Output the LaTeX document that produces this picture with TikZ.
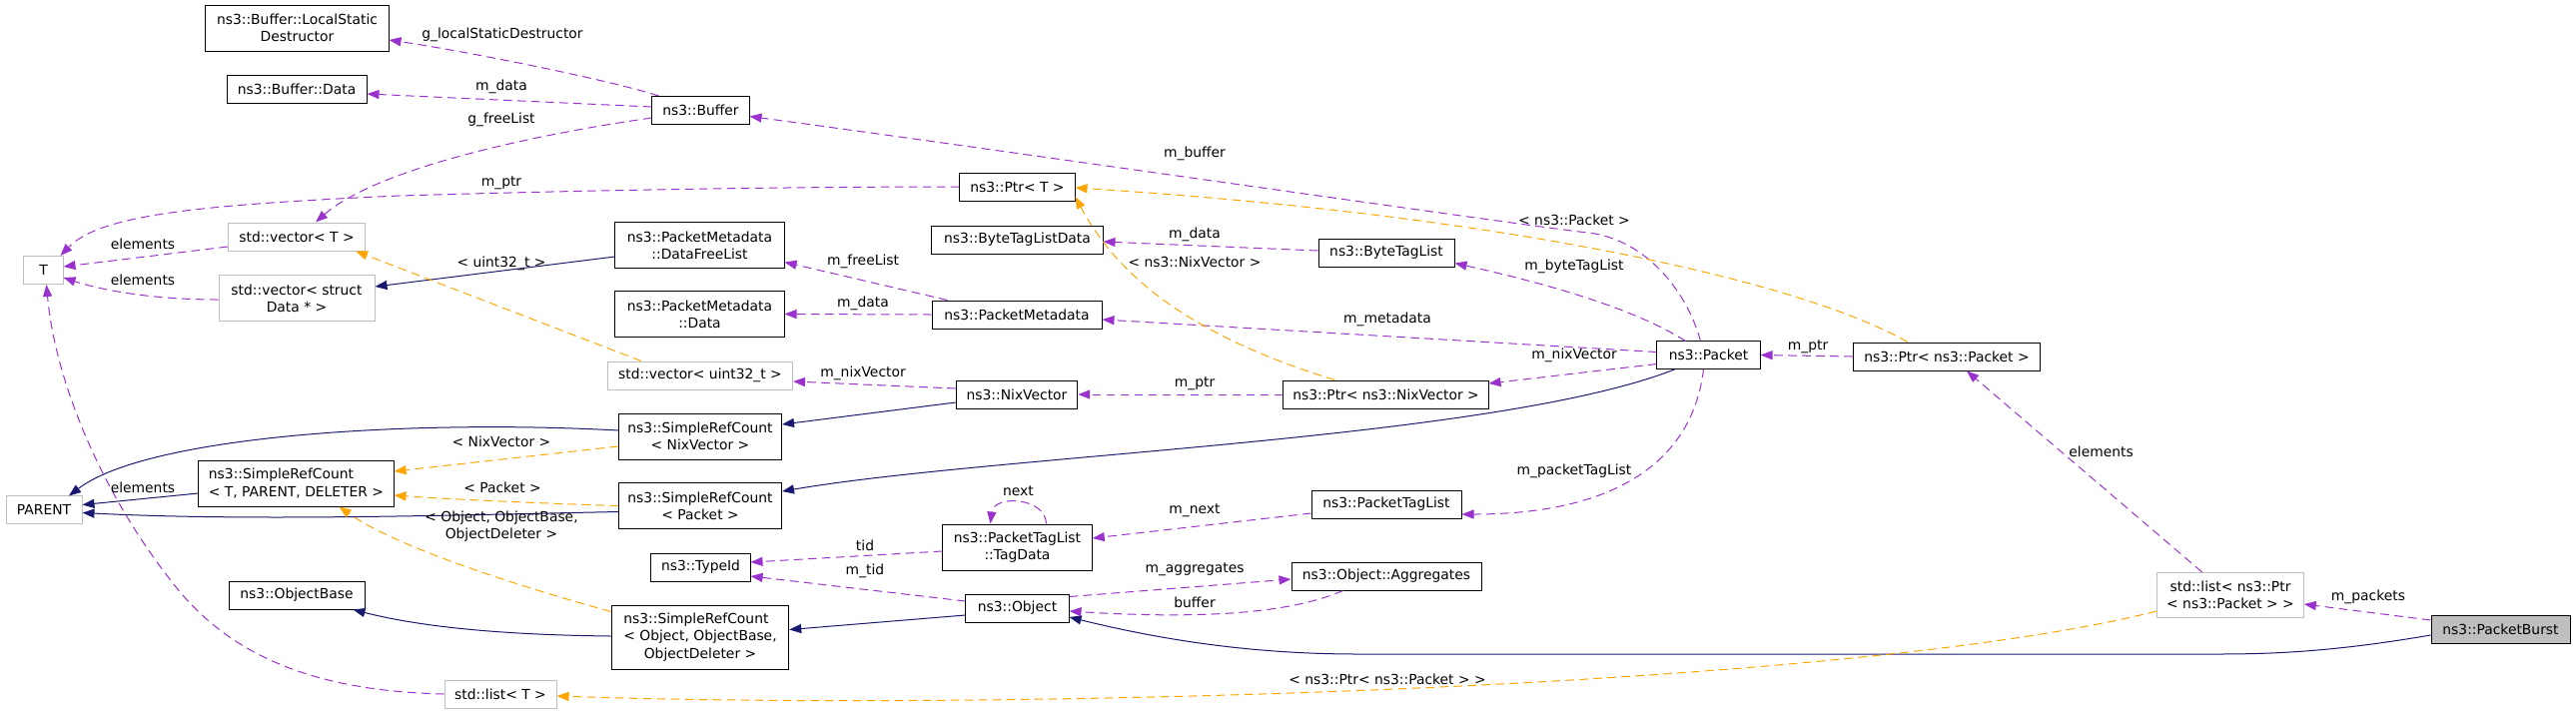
\documentclass[tikz,border=0pt]{standalone}
\usepackage{fontspec}
\setmainfont{DejaVu Sans}
\usetikzlibrary{arrows.meta,calc}

\definecolor{memcol}{HTML}{9A32CD}
\definecolor{argcol}{HTML}{FFA500}
\definecolor{inhcol}{HTML}{191970}
\definecolor{stdgray}{HTML}{BFBFBF}

\tikzset{
  cls/.style={draw=black, line width=0.75pt, inner sep=0pt, align=center,
    minimum height=21pt, font=\fontsize{10.4}{13}\selectfont},
  stdcls/.style={cls, draw=stdgray},
  lbl/.style={inner sep=0pt, align=center, font=\fontsize{10.4}{13}\selectfont},
  tip/.style={-{Triangle[length=9pt,width=6.8pt]}},
  inh/.style={tip, draw=inhcol, fill=none, line width=0.75pt},
  mem/.style={tip, draw=memcol, line width=0.75pt, dash pattern=on 6.5pt off 4pt},
  targ/.style={tip, draw=argcol, line width=0.75pt, dash pattern=on 6.5pt off 4pt}
}

\begin{document}
\begin{tikzpicture}[x=0.75pt, y=-0.75pt]
  \useasboundingbox (0,0) rectangle (2579,715);

  % Classes
  \node[cls, minimum width=137.3pt, minimum height=34.5pt] (lsd) at (297.5,28) {ns3::Buffer::LocalStatic\\Destructor};
  \node[cls, minimum width=105pt] (bdata) at (297,89) {ns3::Buffer::Data};
  \node[cls, minimum width=72.8pt] (buf) at (701.5,110.5) {ns3::Buffer};
  \node[stdcls, minimum width=102.8pt] (vecT) at (297,237) {std::vector< T >};
  \node[stdcls, minimum width=29.3pt] (tparam) at (43.5,270.5) {T};
  \node[stdcls, minimum width=117pt, minimum height=34pt] (vecD) at (297,298.5) {std::vector< struct\\Data * >};
  \node[cls, minimum width=126.8pt, minimum height=34pt] (dfl) at (700.5,245.5) {ns3::PacketMetadata\\::DataFreeList};
  \node[cls, minimum width=126.8pt, minimum height=34pt] (pmdata) at (700.5,314.5) {ns3::PacketMetadata\\::Data};
  \node[stdcls, minimum width=138.8pt] (vecU) at (701,376) {std::vector< uint32\_t >};
  \node[cls, minimum width=122.3pt, minimum height=34.5pt] (srcNV) at (701,437) {ns3::SimpleRefCount\\< NixVector >};
  \node[cls, minimum width=146.3pt, minimum height=34.5pt, align=left] (srcTPD) at (296.5,484) {ns3::SimpleRefCount\\< T, PARENT, DELETER >};
  \node[stdcls, minimum width=57pt, minimum height=20.3pt] (parent) at (44,510.5) {PARENT};
  \node[cls, minimum width=122.3pt, minimum height=34pt] (srcP) at (701,506.5) {ns3::SimpleRefCount\\< Packet >};
  \node[cls, minimum width=74.3pt] (tid) at (701.5,568) {ns3::TypeId};
  \node[cls, minimum width=102pt] (obase) at (297,596) {ns3::ObjectBase};
  \node[cls, minimum width=133.1pt, minimum height=47.3pt] (srcO) at (701,638.5)
    {\begin{tabular}{@{}l@{}}ns3::SimpleRefCount\\< Object, ObjectBase,\\\multicolumn{1}{@{}c@{}}{ObjectDeleter >}\end{tabular}};
  \node[stdcls, minimum width=84pt] (listT) at (501,695) {std::list< T >};
  \node[cls, minimum width=86.3pt] (ptrT) at (1018.5,187) {ns3::Ptr< T >};
  \node[cls, minimum width=128.3pt] (btld) at (1018.5,240) {ns3::ByteTagListData};
  \node[cls, minimum width=102pt] (btl) at (1388,253) {ns3::ByteTagList};
  \node[cls, minimum width=127.5pt] (pm) at (1018,315) {ns3::PacketMetadata};
  \node[cls, minimum width=77.3pt, minimum height=20.3pt] (pkt) at (1710.5,355.5) {ns3::Packet};
  \node[cls, minimum width=91.1pt] (nv) at (1018,395) {ns3::NixVector};
  \node[cls, minimum width=153.8pt] (ptrNV) at (1387.5,395) {ns3::Ptr< ns3::NixVector >};
  \node[cls, minimum width=112.5pt] (ptl) at (1388,505) {ns3::PacketTagList};
  \node[cls, minimum width=112.1pt, minimum height=34.5pt] (tagd) at (1018.5,548) {ns3::PacketTagList\\::TagData};
  \node[cls, minimum width=142.5pt] (agg) at (1388,577) {ns3::Object::Aggregates};
  \node[cls, minimum width=77.3pt] (obj) at (1018.5,609) {ns3::Object};
  \node[cls, minimum width=140.6pt] (ptrP) at (1949,357) {ns3::Ptr< ns3::Packet >};
  \node[stdcls, minimum width=109.9pt, minimum height=34pt] (listP) at (2233,596) {std::list< ns3::Ptr\\< ns3::Packet > >};
  \node[cls, fill=stdgray, minimum width=104.3pt] (burst) at (2503.5,630) {ns3::PacketBurst};

  % Inheritance
  \draw[inh] ($(dfl.west)+(0,11.5)$) -- ($(vecD.east)+(0,-11.5)$);
  \draw[inh] ($(srcNV.west)+(0,-6)$) .. controls (420,420) and (150,435) .. ($(parent.north)+(25,0)$);
  \draw[inh] ($(srcTPD.west)+(0,10)$) -- ($(parent.east)+(0,-5)$);
  \draw[inh] ($(srcP.west)+(0,6)$) .. controls (450,516) and (250,522) .. ($(parent.east)+(0,3)$);
  \draw[inh] ($(nv.west)+(0,8)$) -- ($(srcNV.east)+(0,-12)$);
  \draw[inh] ($(pkt.south west)+(19,0)$) .. controls (1500,440) and (1000,455) .. ($(srcP.east)+(0,-14.5)$);
  \draw[inh] ($(srcO.west)+(0,-1.5)$) .. controls (520,636) and (430,630) .. ($(obase.south east)+(-12,0)$);
  \draw[inh] ($(obj.west)+(0,7)$) -- ($(srcO.east)+(0,-8)$);
  \draw[inh] ($(burst.west)+(0,6)$) .. controls (2340,652) and (2280,655) .. (2220,655)
    -- (1360,655) .. controls (1250,655) and (1160,640) .. ($(obj.east)+(0,9)$);

  % Members
  \draw[mem] ($(buf.north west)+(7,0)$) .. controls (610,80) and (470,52) .. ($(lsd.east)+(0,12)$);
  \draw[mem] ($(buf.west)+(0,-3.5)$) -- ($(bdata.east)+(0,5)$);
  \draw[mem] ($(buf.west)+(0,7.5)$) .. controls (500,140) and (370,175) .. ($(vecT.north)+(19,0)$);
  \draw[mem] (ptrT.west) .. controls (800,187) and (600,190) .. (400,196)
    .. controls (200,205) and (100,215) .. ($(tparam.north east)+(-3,0)$);
  \draw[mem] ($(vecT.west)+(0,10)$) -- ($(tparam.east)+(0,-3.5)$);
  \draw[mem] ($(vecD.west)+(0,1.5)$) .. controls (150,300) and (100,290) .. ($(tparam.east)+(0,7.5)$);
  \draw[mem] (listT.west) .. controls (320,692) and (230,660) .. (170,580)
    .. controls (100,490) and (55,380) .. ($(tparam.south)+(3,0)$);
  \draw[mem] ($(pm.north west)+(16,0)$) -- ($(dfl.east)+(0,17)$);
  \draw[mem] (pm.west) -- (pmdata.east);
  \draw[mem] ($(pkt.north west)+(44,0)$) .. controls (1690,295) and (1650,240) .. (1590,233)
    .. controls (1540,228) and (1000,150) .. ($(buf.east)+(0,6)$);
  \draw[mem] ($(btl.west)+(0,-2)$) -- ($(btld.east)+(0,2)$);
  \draw[mem] ($(pkt.north west)+(29,0)$) .. controls (1630,305) and (1530,280) .. ($(btl.south east)+(0,-4)$);
  \draw[mem] ($(pkt.west)+(0,-3)$) -- ($(pm.east)+(0,5)$);
  \draw[mem] ($(pkt.west)+(0,9)$) -- ($(ptrNV.east)+(0,-11)$);
  \draw[mem] (ptrNV.west) -- (nv.east);
  \draw[mem] ($(nv.west)+(0,-6)$) -- ($(vecU.east)+(0,6)$);
  \draw[mem] ($(pkt.south)+(-5,0)$) .. controls (1695,460) and (1620,515) .. ($(ptl.east)+(0,10)$);
  \draw[mem] ($(ptl.west)+(0,9)$) -- ($(tagd.east)+(0,-9)$);
  \draw[mem] ($(tagd.north)+(29,0)$) .. controls (1047,498) and (995,495) .. ($(tagd.north)+(-27,0)$);
  \draw[mem] ($(tagd.west)+(0,4)$) -- ($(tid.east)+(0,-5)$);
  \draw[mem] ($(obj.west)+(0,-7)$) -- ($(tid.east)+(0,9)$);
  \draw[mem] ($(obj.north east)+(0,3)$) -- ($(agg.west)+(0,3)$);
  \draw[mem] ($(agg.south west)+(52,0)$) .. controls (1290,615) and (1200,620) .. ($(obj.east)+(0,3)$);
  \draw[mem] (ptrP.west) -- (pkt.east);
  \draw[mem] ($(listP.north)+(-28.5,0)$) -- ($(ptrP.south)+(20,0)$);
  \draw[mem] ($(burst.west)+(0,-9)$) -- ($(listP.east)+(0,9)$);

  % Template arguments
  \draw[targ] ($(vecU.north west)+(34,0)$) -- ($(vecT.south east)+(-10,0)$);
  \draw[targ] ($(srcNV.west)+(0,10)$) -- ($(srcTPD.east)+(0,-12)$);
  \draw[targ] (srcP.west) .. controls (540,504) and (450,500) .. ($(srcTPD.east)+(0,12)$);
  \draw[targ] ($(srcO.north west)+(0,6)$) .. controls (530,590) and (400,550) .. ($(srcTPD.south)+(43,0)$);
  \draw[targ] ($(ptrNV.north west)+(52,0)$) .. controls (1170,330) and (1110,260) .. ($(ptrT.east)+(0,10)$);
  \draw[targ] ($(ptrP.north west)+(55,0)$) .. controls (1800,280) and (1500,215) .. ($(ptrT.east)+(0,1)$);
  \draw[targ] ($(listP.west)+(0,16)$) .. controls (1850,690) and (1000,712) .. ($(listT.east)+(0,2)$);

  % Labels
  \node[lbl] (lbLsd) at (503,35) {g\_localStaticDestructor};
  \node[lbl] (lbBdata) at (502,87) {m\_data};
  \node[lbl] (lbFree) at (502,120) {g\_freeList};
  \node[lbl] (lbPtrT) at (502,183) {m\_ptr};
  \node[lbl] (lbElemA) at (143,244) {elements};
  \node[lbl] (lbElemB) at (143,280) {elements};
  \node[lbl] (lbU32) at (502,264) {< uint32\_t >};
  \node[lbl] (lbFreeList) at (864,262) {m\_freeList};
  \node[lbl] (lbPmData) at (864,304) {m\_data};
  \node[lbl] (lbNixA) at (864,374) {m\_nixVector};
  \node[lbl] (lbArgNV) at (502,442) {< NixVector >};
  \node[lbl] (lbElemC) at (143,488) {elements};
  \node[lbl] (lbArgP) at (503,488) {< Packet >};
  \node[lbl] (lbArgO) at (502,527) {< Object, ObjectBase,\\ObjectDeleter >};
  \node[lbl] (lbTid) at (866,546) {tid};
  \node[lbl] (lbMTid) at (866,572) {m\_tid};
  \node[lbl] (lbBuf) at (1196,154) {m\_buffer};
  \node[lbl] (lbArgPkt) at (1576,220) {< ns3::Packet >};
  \node[lbl] (lbBtlData) at (1196,235) {m\_data};
  \node[lbl] (lbArgNix) at (1196,262) {< ns3::NixVector >};
  \node[lbl] (lbBtl) at (1576,267) {m\_byteTagList};
  \node[lbl] (lbMeta) at (1389,320) {m\_metadata};
  \node[lbl] (lbNixB) at (1576,356) {m\_nixVector};
  \node[lbl] (lbPtrNV) at (1196,384) {m\_ptr};
  \node[lbl] (lbPtl) at (1576,472) {m\_packetTagList};
  \node[lbl] (lbNext) at (1019.5,492) {next};
  \node[lbl] (lbMNext) at (1196,511) {m\_next};
  \node[lbl] (lbAgg) at (1196,570) {m\_aggregates};
  \node[lbl] (lbBuffer) at (1196,603) {buffer};
  \node[lbl] (lbArgList) at (1389,680) {< ns3::Ptr< ns3::Packet > >};
  \node[lbl] (lbPtrP) at (1810,347) {m\_ptr};
  \node[lbl] (lbElemD) at (2103.6,452.5) {elements};
  \node[lbl] (lbPackets) at (2371,598) {m\_packets};
\end{tikzpicture}
\end{document}
